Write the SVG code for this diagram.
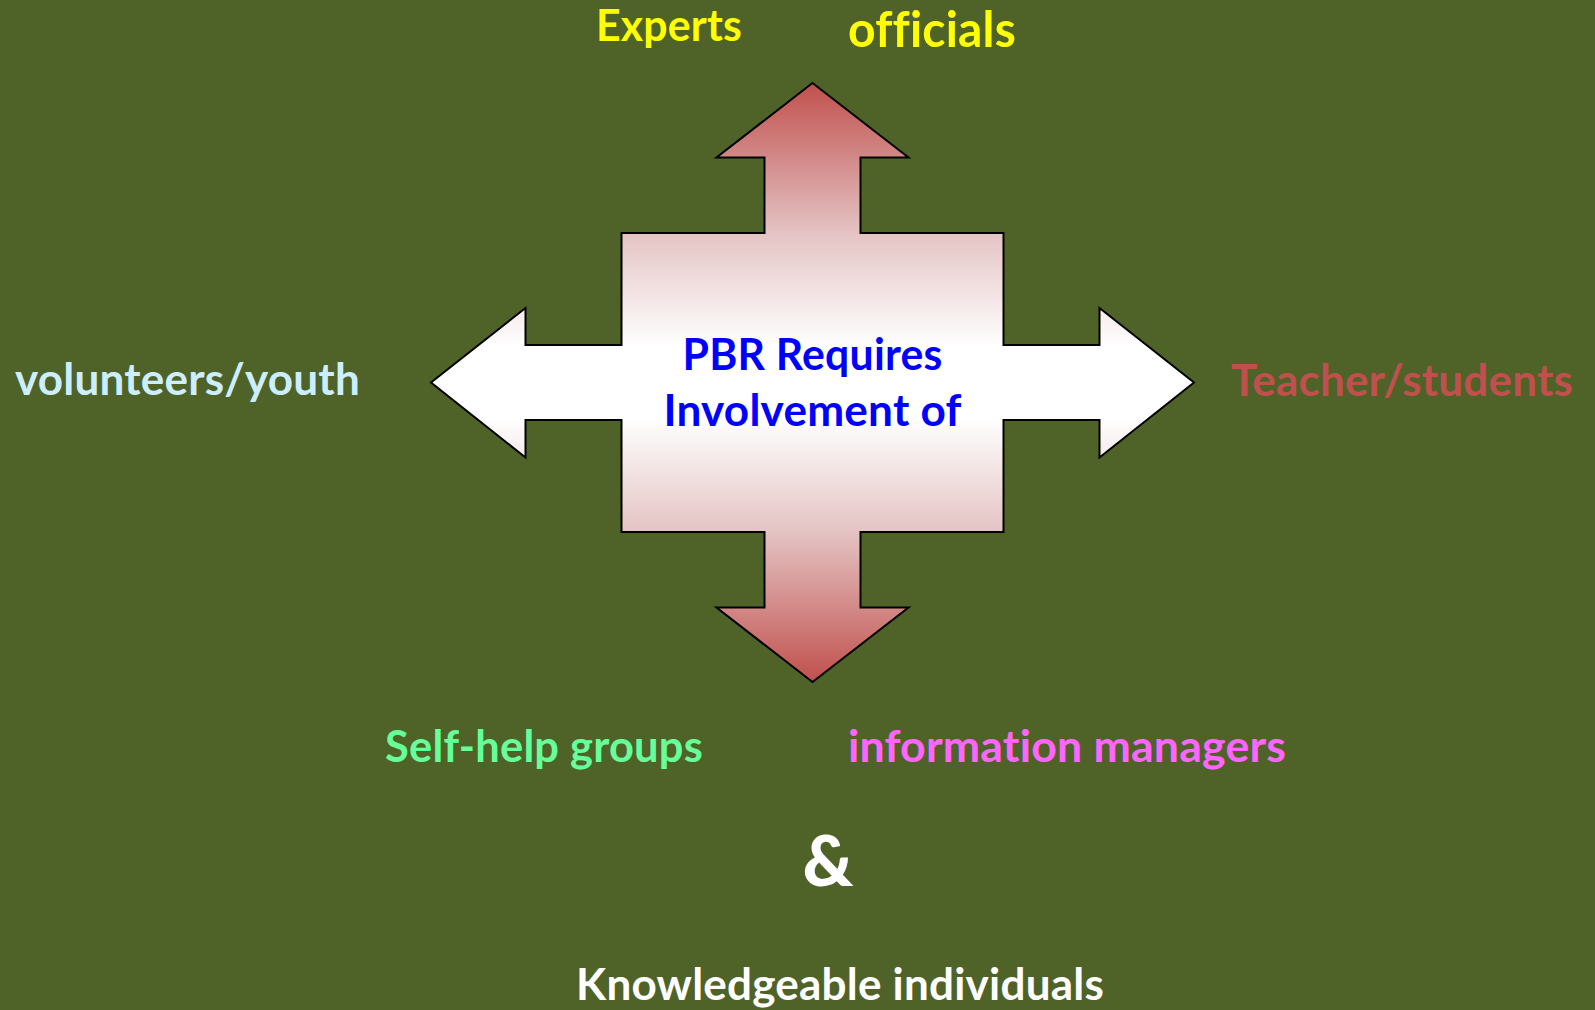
<svg xmlns="http://www.w3.org/2000/svg" width="1595" height="1010" viewBox="0 0 1595 1010">
<style>
.t{font-family:Lato,"Open Sans","Liberation Sans",sans-serif;font-weight:bold;font-variant-ligatures:none;font-feature-settings:"liga" 0,"clig" 0;letter-spacing:0.2px;}
</style>
<defs>
<linearGradient id="g" gradientUnits="userSpaceOnUse" x1="0" y1="83" x2="0" y2="682">
<stop offset="0" stop-color="#C0504D"/>
<stop offset="0.25" stop-color="#E4C3C3"/>
<stop offset="0.44" stop-color="#FFFFFF"/>
<stop offset="0.56" stop-color="#FFFFFF"/>
<stop offset="0.75" stop-color="#E4C3C3"/>
<stop offset="1" stop-color="#C0504D"/>
</linearGradient>
</defs>
<rect width="1595" height="1010" fill="#4F6228"/>
<g id="arrows">
<path d="M812.5 83 L908.5 157.5 L860.5 157.5 L860.5 233 L1003.5 233 L1003.5 345 L1099.5 345 L1099.5 308 L1194 382.5 L1099.5 457.5 L1099.5 420 L1003.5 420 L1003.5 532 L860.5 532 L860.5 607.5 L908.5 607.5 L812.5 682 L716.5 607.5 L764.5 607.5 L764.5 532 L621.5 532 L621.5 420 L525.5 420 L525.5 457.5 L431 382.5 L525.5 308 L525.5 345 L621.5 345 L621.5 233 L764.5 233 L764.5 157.5 L716.5 157.5 Z" fill="url(#g)" stroke="#000" stroke-width="2" stroke-linejoin="miter"/>
</g>
<g id="center">
<text class="t" x="812.5" y="370" font-size="44" fill="#0000FF" text-anchor="middle" textLength="260" lengthAdjust="spacingAndGlyphs">PBR Requires</text>
<text class="t" x="812.5" y="426" font-size="44" fill="#0000FF" text-anchor="middle" textLength="298" lengthAdjust="spacingAndGlyphs">Involvement of</text>
</g>
<g id="experts"><text class="t" x="596" y="41" font-size="44" fill="#FFFF00" textLength="146" lengthAdjust="spacingAndGlyphs">Experts</text></g>
<g id="officials"><text class="t" x="848" y="47" font-size="49" fill="#FFFF00" textLength="168" lengthAdjust="spacingAndGlyphs">officials</text></g>
<g id="volunteers"><text class="t" x="15" y="395" font-size="44" fill="#CCEEFF" textLength="345" lengthAdjust="spacingAndGlyphs">volunteers/youth</text></g>
<g id="teachers"><text class="t" x="1231" y="396" font-size="44" fill="#C0504D" textLength="342" lengthAdjust="spacingAndGlyphs">Teacher/students</text></g>
<g id="selfhelp"><text class="t" x="385" y="762" font-size="44" fill="#66FF99" textLength="318" lengthAdjust="spacingAndGlyphs">Self-help groups</text></g>
<g id="infomanagers"><text class="t" x="848" y="762" font-size="44" fill="#FF66FF" textLength="438" lengthAdjust="spacingAndGlyphs">information managers</text></g>
<g id="amp"><text class="t" x="828" y="886" font-size="70" fill="#FFFFFF" text-anchor="middle" style="font-weight:900">&amp;</text></g>
<g id="knowledgeable"><text class="t" x="576" y="1000" font-size="44" fill="#FFFFFF" textLength="528" lengthAdjust="spacingAndGlyphs">Knowledgeable individuals</text></g>
</svg>
